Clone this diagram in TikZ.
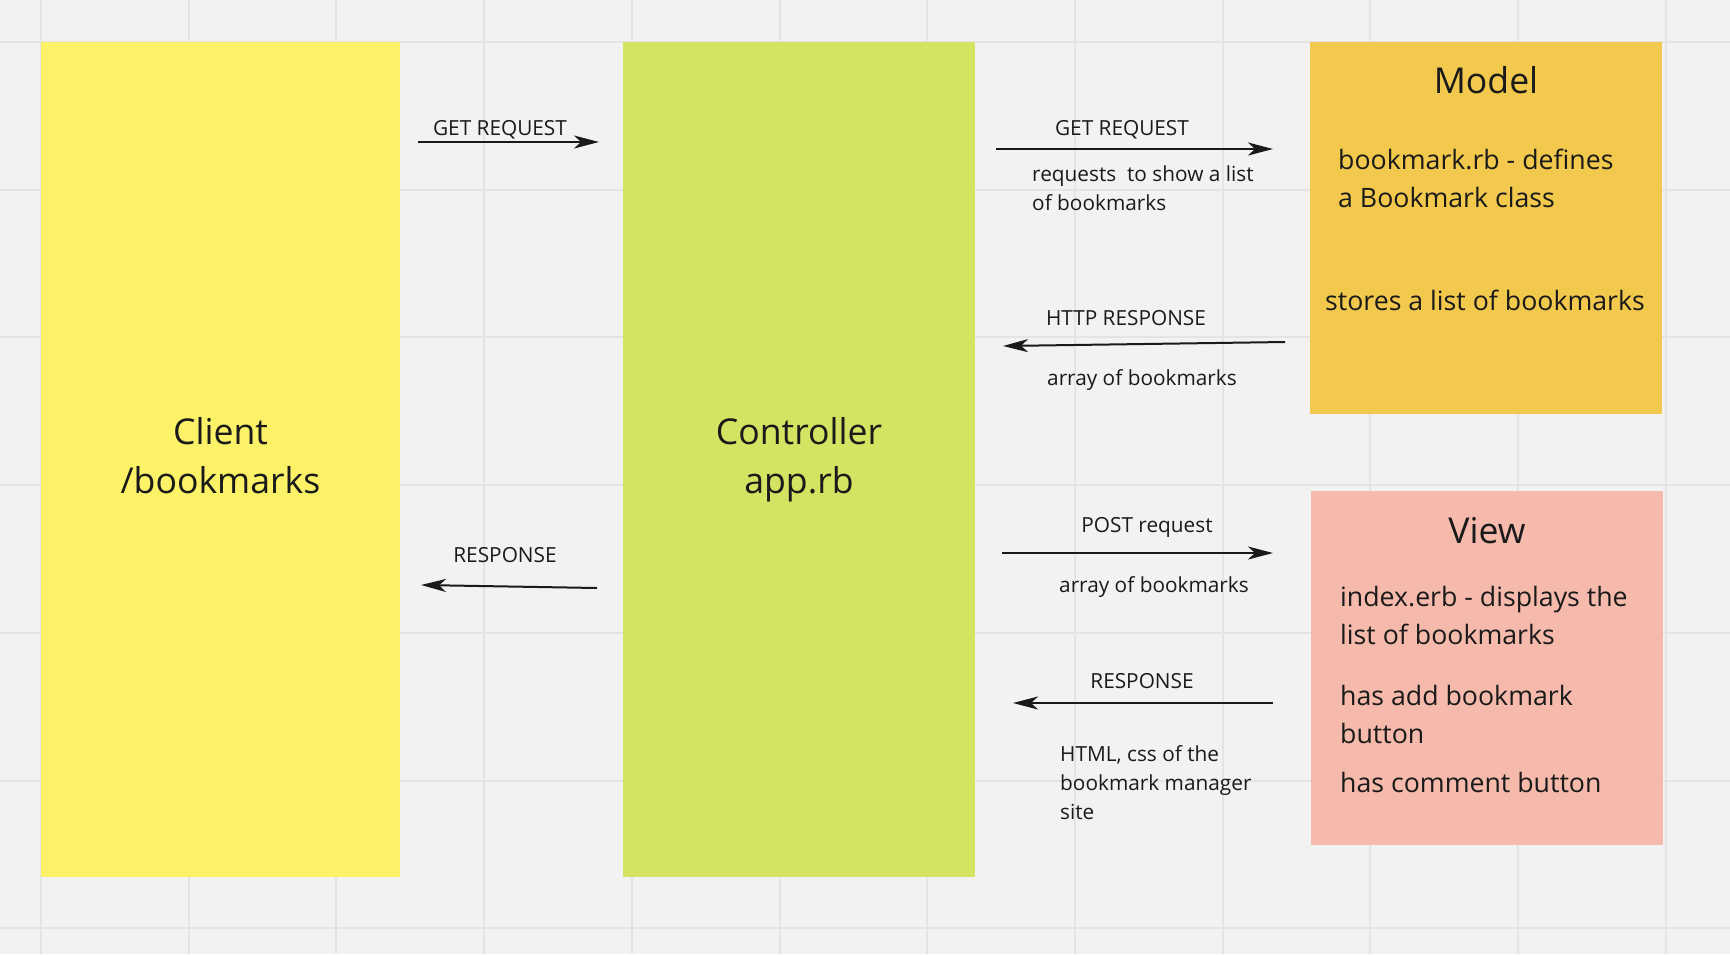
\documentclass[tikz,border=0pt]{standalone}
\usepackage{fontspec}
\setmainfont{Open Sans}
\usetikzlibrary{arrows.meta}

\definecolor{bg}{HTML}{F2F2F2}
\definecolor{gridgray}{HTML}{E4E4E4}
\definecolor{clientyellow}{HTML}{FCF268}
\definecolor{ctrlgreen}{HTML}{D4E462}
\definecolor{modelorange}{HTML}{F2C94C}
\definecolor{viewpink}{HTML}{F5BAAC}
\definecolor{ink}{HTML}{1A1A1A}

\tikzset{
  big/.style={font=\fontsize{35.6}{49}\selectfont},
  body/.style={font=\fontsize{26.7}{38}\selectfont},
  small/.style={font=\fontsize{20.8}{29}\selectfont},
  flow/.style={draw=ink, line width=2pt, -{Stealth[length=25pt,width=13pt,inset=7pt]}},
}

\begin{document}
\begin{tikzpicture}[x=1pt,y=-1pt]

      \useasboundingbox (0,0) rectangle (1730,954);
      \fill[bg] (0,0) rectangle (1730,954);
      \foreach \k in {0,...,11}
        \draw[gridgray, line width=2pt] ({41+147.7*\k},0) -- ({41+147.7*\k},954);
      \foreach \k in {0,...,6}
        \draw[gridgray, line width=2pt] (0,{42+147.7*\k}) -- (1730,{42+147.7*\k});

      \begin{scope}[every node/.style={inner sep=0, align=center, text=ink}]
        \node[fill=clientyellow, minimum width=359, minimum height=835, big] (client) at (220.5,459.5) {\strut Client\\\strut/bookmarks};
        \node[fill=ctrlgreen,    minimum width=352, minimum height=835, big] (ctrl)   at (799,459.5)   {\strut Controller\\\strut app.rb};
        \node[fill=modelorange,  minimum width=352, minimum height=372]      (model)  at (1486,228)    {};
        \node[fill=viewpink,     minimum width=352, minimum height=354]      (view)   at (1487,668)    {};
      \end{scope}

      \coordinate (g1) at (418,142);
      \coordinate (g2) at (599,142);
      \coordinate (r1) at (597,588);
      \coordinate (r2) at (421,585);
      \coordinate (m1) at (996,149);
      \coordinate (m2) at (1273,149);
      \coordinate (h1) at (1285,342);
      \coordinate (h2) at (1003,346);
      \coordinate (p1) at (1002,553);
      \coordinate (p2) at (1273,553);
      \coordinate (v1) at (1273,703);
      \coordinate (v2) at (1013,703);

      \begin{scope}[every edge/.style={flow}]
        \path (g1) edge (g2);
        \path (r1) edge (r2);
        \path (m1) edge (m2);
        \path (h1) edge (h2);
        \path (p1) edge (p2);
        \path (v1) edge (v2);
      \end{scope}

      \begin{scope}[every node/.style={inner sep=0, text=ink}]
        \node[small, anchor=base] (getl)  at (500,135)  {GET REQUEST};
        \node[small, anchor=base] (respl) at (505,562)  {RESPONSE};
        \node[small, anchor=base] (getr)  at (1122,135) {GET REQUEST};
        \node[small, anchor=north west, align=left] (reqnote) at (1032,165) {requests~ to show a list\\of bookmarks};
        \node[small, anchor=base] (http)  at (1126,325) {HTTP RESPONSE};
        \node[small, anchor=base] (arr1)  at (1142,385) {array of bookmarks};
        \node[small, anchor=base] (post)  at (1147,532) {POST request};
        \node[small, anchor=base] (arr2)  at (1154,592) {array of bookmarks};
        \node[small, anchor=base] (respr) at (1142,688) {RESPONSE};
        \node[small, anchor=north west, align=left] (htmlnote) at (1060,745) {HTML, css of the\\bookmark manager\\site};

        \node[big, anchor=base] (modeltitle) at (1486,93) {Model};
        \node[body, anchor=north west, align=left] (modeldef) at (1338,148.5) {bookmark.rb - defines\\a Bookmark class};
        \node[body, anchor=base] (modelstore) at (1485,310) {stores a list of bookmarks};

        \node[big, anchor=base] (viewtitle) at (1487,543) {View};
        \node[body, anchor=north west, align=left] (viewidx) at (1340,586.5) {index.erb - displays the\\list of bookmarks};
        \node[body, anchor=north west, align=left] (viewadd) at (1340,685.5) {has add bookmark\\button};
        \node[body, anchor=base west] (viewcmt) at (1340,792) {has comment button};
      \end{scope}

\end{tikzpicture}
\end{document}
